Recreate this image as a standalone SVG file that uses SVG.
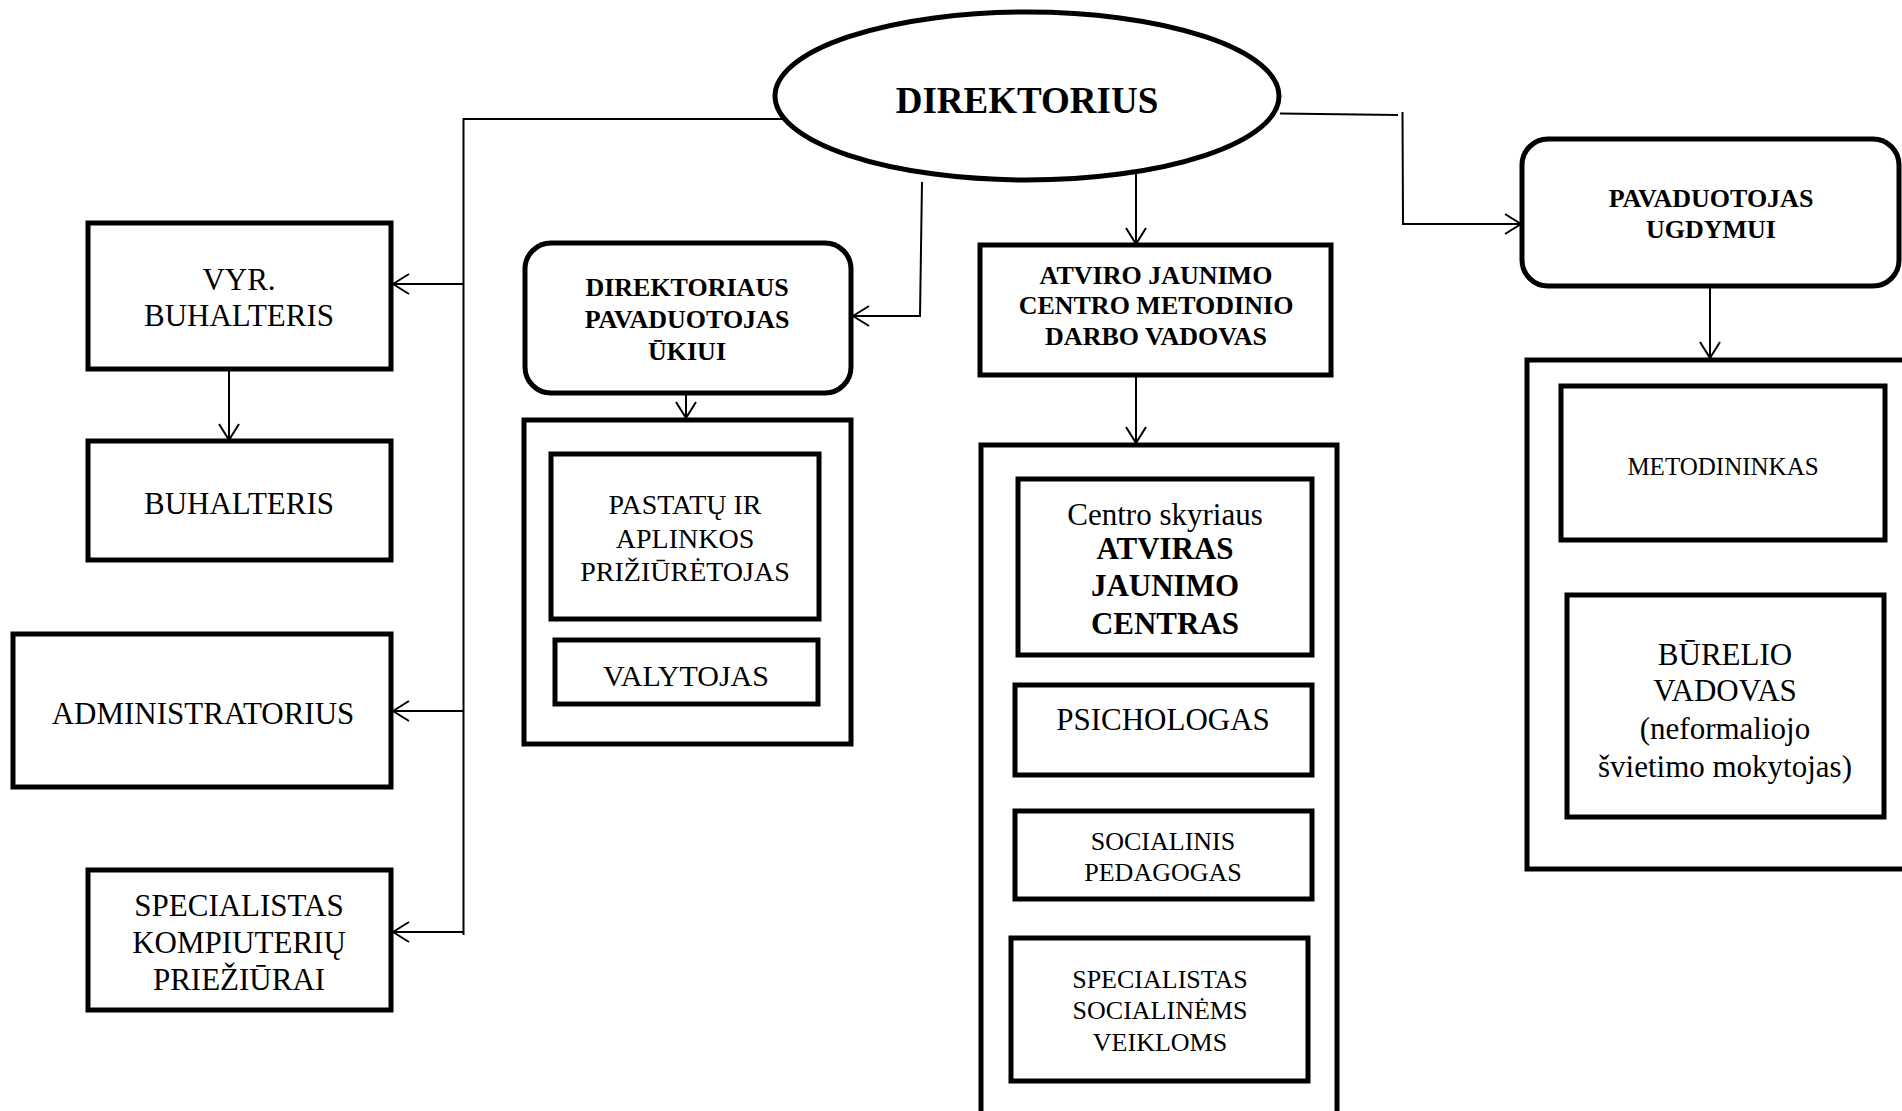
<svg xmlns="http://www.w3.org/2000/svg" width="1902" height="1111" viewBox="0 0 1902 1111">
<style>
.box{fill:#fff;stroke:#000;stroke-width:5}
.ell{fill:#fff;stroke:#000;stroke-width:5}
.con{fill:none;stroke:#000;stroke-width:2}
text{font-family:"Liberation Serif","Times New Roman",serif;fill:#000;text-anchor:middle}
.b{font-weight:bold}
</style>
<defs>
<marker id="arr" markerUnits="userSpaceOnUse" markerWidth="18" markerHeight="22" viewBox="0 0 18 22" refX="17" refY="11" orient="auto">
<path d="M1,1 L17,11 L1,21" fill="none" stroke="#000" stroke-width="2"/>
</marker>
</defs>
<rect width="1902" height="1111" fill="#fff"/>

<g id="connectors">
<polyline class="con" points="785,119 463.5,119 463.5,935"/>
<line class="con" x1="463.5" y1="284" x2="393" y2="284" marker-end="url(#arr)"/>
<line class="con" x1="463.5" y1="711" x2="393" y2="711" marker-end="url(#arr)"/>
<line class="con" x1="463.5" y1="932" x2="393" y2="932" marker-end="url(#arr)"/>
<line class="con" x1="229" y1="369" x2="229" y2="440" marker-end="url(#arr)"/>
<polyline class="con" points="922,182 920,316 853,316" marker-end="url(#arr)"/>
<line class="con" x1="686" y1="394" x2="686" y2="418" marker-end="url(#arr)"/>
<line class="con" x1="1136" y1="172" x2="1136" y2="244" marker-end="url(#arr)"/>
<line class="con" x1="1136" y1="375" x2="1136" y2="443" marker-end="url(#arr)"/>
<polyline class="con" points="1280,113.5 1398,115"/>
<polyline class="con" points="1402.5,112 1403,224 1521,224" marker-end="url(#arr)"/>
<line class="con" x1="1710" y1="287" x2="1710" y2="358" marker-end="url(#arr)"/>
<line class="con" x1="1716" y1="541" x2="1716" y2="564" marker-end="url(#arr)"/>
</g>

<g id="direktorius">
<ellipse class="ell" cx="1027" cy="96" rx="252" ry="84"/>
<text class="b" x="1027" y="113" font-size="37">DIREKTORIUS</text>
</g>

<g id="vyr-buhalteris">
<rect class="box" x="88" y="223" width="303" height="146"/>
<text x="239" y="290" font-size="31">VYR.</text>
<text x="239" y="326" font-size="31">BUHALTERIS</text>
</g>

<g id="buhalteris">
<rect class="box" x="88" y="441" width="303" height="119"/>
<text x="239" y="514" font-size="31">BUHALTERIS</text>
</g>

<g id="administratorius">
<rect class="box" x="13" y="634" width="378" height="153"/>
<text x="203" y="724" font-size="31">ADMINISTRATORIUS</text>
</g>

<g id="specialistas-kompiuteriu">
<rect class="box" x="88" y="870" width="303" height="140"/>
<text x="239" y="916" font-size="31">SPECIALISTAS</text>
<text x="239" y="953" font-size="31">KOMPIUTERIŲ</text>
<text x="239" y="990" font-size="31">PRIEŽIŪRAI</text>
</g>

<g id="pavaduotojas-ukiui">
<rect class="box" x="525" y="243" width="326" height="150" rx="26" ry="26"/>
<text class="b" x="687" y="296" font-size="26">DIREKTORIAUS</text>
<text class="b" x="687" y="328" font-size="26">PAVADUOTOJAS</text>
<text class="b" x="687" y="360" font-size="26">ŪKIUI</text>
</g>

<g id="ukio-grupe">
<rect class="box" x="524" y="420" width="327" height="324"/>
</g>

<g id="pastatu-priziuretojas">
<rect class="box" x="551" y="454" width="268" height="165"/>
<text x="685" y="514" font-size="28">PASTATŲ IR</text>
<text x="685" y="548" font-size="28">APLINKOS</text>
<text x="685" y="581" font-size="28">PRIŽIŪRĖTOJAS</text>
</g>

<g id="valytojas">
<rect class="box" x="555" y="640" width="263" height="64"/>
<text x="686" y="686" font-size="30">VALYTOJAS</text>
</g>

<g id="metodinio-darbo-vadovas">
<rect class="box" x="980" y="245" width="351" height="130"/>
<text class="b" x="1156" y="284" font-size="26">ATVIRO JAUNIMO</text>
<text class="b" x="1156" y="314" font-size="26">CENTRO METODINIO</text>
<text class="b" x="1156" y="345" font-size="26">DARBO VADOVAS</text>
</g>

<g id="centro-grupe">
<rect class="box" x="981" y="445" width="356" height="680"/>
</g>

<g id="atviras-jaunimo-centras">
<rect class="box" x="1018" y="479" width="294" height="176"/>
<text x="1165" y="525" font-size="31">Centro skyriaus</text>
<text class="b" x="1165" y="559" font-size="31">ATVIRAS</text>
<text class="b" x="1165" y="596" font-size="31">JAUNIMO</text>
<text class="b" x="1165" y="634" font-size="31">CENTRAS</text>
</g>

<g id="psichologas">
<rect class="box" x="1015" y="685" width="297" height="90"/>
<text x="1163" y="730" font-size="31">PSICHOLOGAS</text>
</g>

<g id="socialinis-pedagogas">
<rect class="box" x="1015" y="811" width="297" height="88"/>
<text x="1163" y="850" font-size="26">SOCIALINIS</text>
<text x="1163" y="881" font-size="26">PEDAGOGAS</text>
</g>

<g id="specialistas-socialinems">
<rect class="box" x="1011" y="938" width="297" height="143"/>
<text x="1160" y="988" font-size="26">SPECIALISTAS</text>
<text x="1160" y="1019" font-size="26">SOCIALINĖMS</text>
<text x="1160" y="1051" font-size="26">VEIKLOMS</text>
</g>

<g id="pavaduotojas-ugdymui">
<rect class="box" x="1522" y="139" width="377" height="147" rx="26" ry="26"/>
<text class="b" x="1711" y="207" font-size="26">PAVADUOTOJAS</text>
<text class="b" x="1711" y="238" font-size="26">UGDYMUI</text>
</g>

<g id="ugdymo-grupe">
<rect class="box" x="1527" y="360" width="390" height="509"/>
</g>

<g id="metodininkas">
<rect class="box" x="1561" y="386" width="324" height="154"/>
<text x="1723" y="475" font-size="25">METODININKAS</text>
</g>

<g id="burelio-vadovas">
<rect class="box" x="1567" y="595" width="317" height="222"/>
<text x="1725" y="665" font-size="31">BŪRELIO</text>
<text x="1725" y="701" font-size="31">VADOVAS</text>
<text x="1725" y="739" font-size="31">(neformaliojo</text>
<text x="1725" y="777" font-size="31">švietimo mokytojas)</text>
</g>
</svg>
